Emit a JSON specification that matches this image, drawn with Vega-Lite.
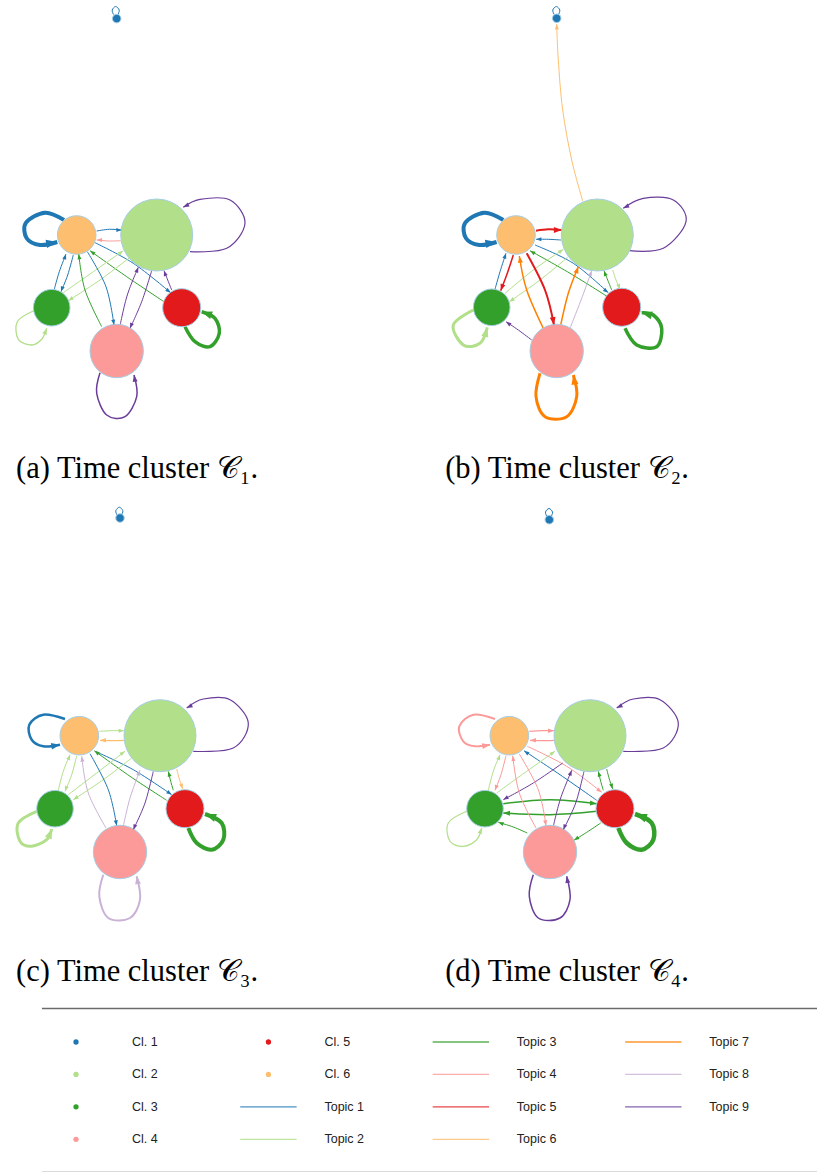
{
"$schema": "https://vega.github.io/schema/vega-lite/v6.json",
"padding": 0,
"spacing": 14,
"config": {"view": {"stroke": null}},
"vconcat": [
{
"data": {"values": [
{"p":"a","k":"Cl. 1","x":116.7,"y":18.6,"s":1.4},
{"p":"a","k":"Cl. 6","x":76.7,"y":235,"s":28.7},
{"p":"a","k":"Cl. 2","x":156.7,"y":235,"s":100},
{"p":"a","k":"Cl. 3","x":51.7,"y":307.7,"s":25.8},
{"p":"a","k":"Cl. 5","x":181.7,"y":307.7,"s":27.9},
{"p":"a","k":"Cl. 4","x":116.7,"y":351,"s":55},
{"p":"b","k":"Cl. 1","x":126.7,"y":18.3,"s":1.4},
{"p":"b","k":"Cl. 6","x":86,"y":235,"s":28.7},
{"p":"b","k":"Cl. 2","x":167.3,"y":235,"s":100},
{"p":"b","k":"Cl. 3","x":61.7,"y":307.3,"s":25.8},
{"p":"b","k":"Cl. 5","x":191.7,"y":307.3,"s":27.9},
{"p":"b","k":"Cl. 4","x":126.7,"y":351,"s":55},
{"p":"c","k":"Cl. 1","x":120,"y":15,"s":1.4},
{"p":"c","k":"Cl. 6","x":79.3,"y":232.7,"s":28.7},
{"p":"c","k":"Cl. 2","x":160,"y":232.7,"s":100},
{"p":"c","k":"Cl. 3","x":55,"y":305.7,"s":25.8},
{"p":"c","k":"Cl. 5","x":185,"y":305.7,"s":27.9},
{"p":"c","k":"Cl. 4","x":120,"y":349,"s":55},
{"p":"d","k":"Cl. 1","x":119.3,"y":16.7,"s":1.4},
{"p":"d","k":"Cl. 6","x":79.3,"y":232.7,"s":28.7},
{"p":"d","k":"Cl. 2","x":160,"y":232.7,"s":100},
{"p":"d","k":"Cl. 3","x":55,"y":305.7,"s":25.8},
{"p":"d","k":"Cl. 5","x":185,"y":305.7,"s":27.9},
{"p":"d","k":"Cl. 4","x":120,"y":349,"s":55},

{"p":"a","e":"a1","k":"Topic 1","w":4,"o":0,"x":64,"y":220},
{"p":"a","e":"a1","k":"Topic 1","w":4,"o":1,"x":45,"y":212.7},
{"p":"a","e":"a1","k":"Topic 1","w":4,"o":2,"x":26,"y":222.7},
{"p":"a","e":"a1","k":"Topic 1","w":4,"o":3,"x":26.7,"y":238.3},
{"p":"a","e":"a1","k":"Topic 1","w":4,"o":4,"x":40,"y":245},
{"p":"a","e":"a1","k":"Topic 1","w":4,"o":5,"x":57.3,"y":242,"h":80},
{"p":"a","e":"a2","k":"Topic 1","w":1,"o":0,"x":96.7,"y":231},
{"p":"a","e":"a2","k":"Topic 1","w":1,"o":1,"x":109.3,"y":229.3},
{"p":"a","e":"a2","k":"Topic 1","w":1,"o":2,"x":121.7,"y":230,"h":90},
{"p":"a","e":"a3","k":"Topic 4","w":1,"o":0,"x":120.7,"y":240.7},
{"p":"a","e":"a3","k":"Topic 4","w":1,"o":1,"x":108.7,"y":241},
{"p":"a","e":"a3","k":"Topic 4","w":1,"o":2,"x":96.7,"y":240,"h":270},
{"p":"a","e":"a4","k":"Topic 1","w":1,"o":0,"x":95,"y":242.7},
{"p":"a","e":"a4","k":"Topic 1","w":1,"o":1,"x":133.3,"y":263.3},
{"p":"a","e":"a4","k":"Topic 1","w":1,"o":2,"x":170.7,"y":292.7,"h":127},
{"p":"a","e":"a5","k":"Topic 3","w":1,"o":0,"x":164,"y":301.7},
{"p":"a","e":"a5","k":"Topic 3","w":1,"o":1,"x":126.7,"y":276.7},
{"p":"a","e":"a5","k":"Topic 3","w":1,"o":2,"x":90,"y":250.7,"h":305},
{"p":"a","e":"a6","k":"Topic 2","w":1,"o":0,"x":63.3,"y":292.7},
{"p":"a","e":"a6","k":"Topic 2","w":1,"o":1,"x":93.3,"y":271.7},
{"p":"a","e":"a6","k":"Topic 2","w":1,"o":2,"x":123.3,"y":250.7,"h":55},
{"p":"a","e":"a7","k":"Topic 2","w":1,"o":0,"x":130,"y":257.3},
{"p":"a","e":"a7","k":"Topic 2","w":1,"o":1,"x":100,"y":280},
{"p":"a","e":"a7","k":"Topic 2","w":1,"o":2,"x":68.3,"y":300.7,"h":237},
{"p":"a","e":"a8","k":"Topic 1","w":1,"o":0,"x":54.3,"y":289.3},
{"p":"a","e":"a8","k":"Topic 1","w":1,"o":1,"x":59.3,"y":271.7},
{"p":"a","e":"a8","k":"Topic 1","w":1,"o":2,"x":66,"y":254,"h":19},
{"p":"a","e":"a9","k":"Topic 1","w":1,"o":0,"x":73.3,"y":255},
{"p":"a","e":"a9","k":"Topic 1","w":1,"o":1,"x":67.7,"y":275},
{"p":"a","e":"a9","k":"Topic 1","w":1,"o":2,"x":61,"y":291.7,"h":199},
{"p":"a","e":"a10","k":"Topic 3","w":1,"o":0,"x":101.7,"y":326.7},
{"p":"a","e":"a10","k":"Topic 3","w":1,"o":1,"x":85,"y":290},
{"p":"a","e":"a10","k":"Topic 3","w":1,"o":2,"x":78.7,"y":254,"h":351},
{"p":"a","e":"a11","k":"Topic 1","w":1,"o":0,"x":87.3,"y":251.7},
{"p":"a","e":"a11","k":"Topic 1","w":1,"o":1,"x":106,"y":286.7},
{"p":"a","e":"a11","k":"Topic 1","w":1,"o":2,"x":114,"y":325,"h":171},
{"p":"a","e":"a12","k":"Topic 9","w":1,"o":0,"x":120,"y":325.7},
{"p":"a","e":"a12","k":"Topic 9","w":1,"o":1,"x":127.3,"y":295},
{"p":"a","e":"a12","k":"Topic 9","w":1,"o":2,"x":138.3,"y":267.3,"h":22},
{"p":"a","e":"a13","k":"Topic 9","w":1,"o":0,"x":151.7,"y":270.7},
{"p":"a","e":"a13","k":"Topic 9","w":1,"o":1,"x":141.7,"y":301.7},
{"p":"a","e":"a13","k":"Topic 9","w":1,"o":2,"x":130,"y":328.3,"h":202},
{"p":"a","e":"a14","k":"Topic 9","w":1,"o":0,"x":171.7,"y":290},
{"p":"a","e":"a14","k":"Topic 9","w":1,"o":1,"x":167.7,"y":280},
{"p":"a","e":"a14","k":"Topic 9","w":1,"o":2,"x":164,"y":270.7,"h":341},
{"p":"a","e":"a15","k":"Topic 9","w":1.2,"o":0,"x":190,"y":251.7},
{"p":"a","e":"a15","k":"Topic 9","w":1.2,"o":1,"x":226.7,"y":248.3},
{"p":"a","e":"a15","k":"Topic 9","w":1.2,"o":2,"x":245,"y":223.3},
{"p":"a","e":"a15","k":"Topic 9","w":1.2,"o":3,"x":230,"y":200},
{"p":"a","e":"a15","k":"Topic 9","w":1.2,"o":4,"x":200,"y":199.3},
{"p":"a","e":"a15","k":"Topic 9","w":1.2,"o":5,"x":183.3,"y":207.3,"h":243},
{"p":"a","e":"a16","k":"Topic 2","w":1.3,"o":0,"x":33.3,"y":311},
{"p":"a","e":"a16","k":"Topic 2","w":1.3,"o":1,"x":17.3,"y":321.7},
{"p":"a","e":"a16","k":"Topic 2","w":1.3,"o":2,"x":18.3,"y":339.3},
{"p":"a","e":"a16","k":"Topic 2","w":1.3,"o":3,"x":31.7,"y":345},
{"p":"a","e":"a16","k":"Topic 2","w":1.3,"o":4,"x":41.7,"y":339.3},
{"p":"a","e":"a16","k":"Topic 2","w":1.3,"o":5,"x":46.7,"y":328.3,"h":20},
{"p":"a","e":"a17","k":"Topic 3","w":3.5,"o":0,"x":185,"y":326.7},
{"p":"a","e":"a17","k":"Topic 3","w":3.5,"o":1,"x":195,"y":341.7},
{"p":"a","e":"a17","k":"Topic 3","w":3.5,"o":2,"x":210,"y":346.7},
{"p":"a","e":"a17","k":"Topic 3","w":3.5,"o":3,"x":219.3,"y":333.3},
{"p":"a","e":"a17","k":"Topic 3","w":3.5,"o":4,"x":215,"y":318.3},
{"p":"a","e":"a17","k":"Topic 3","w":3.5,"o":5,"x":201.7,"y":311.7,"h":290},
{"p":"a","e":"a18","k":"Topic 9","w":1.5,"o":0,"x":100,"y":372.7},
{"p":"a","e":"a18","k":"Topic 9","w":1.5,"o":1,"x":96.7,"y":393.3},
{"p":"a","e":"a18","k":"Topic 9","w":1.5,"o":2,"x":106.7,"y":415},
{"p":"a","e":"a18","k":"Topic 9","w":1.5,"o":3,"x":125,"y":416.7},
{"p":"a","e":"a18","k":"Topic 9","w":1.5,"o":4,"x":136.7,"y":396.7},
{"p":"a","e":"a18","k":"Topic 9","w":1.5,"o":5,"x":134,"y":375,"h":350},
{"p":"a","e":"a19","k":"Topic 1","w":1,"o":0,"x":113.5,"y":14.5},
{"p":"a","e":"a19","k":"Topic 1","w":1,"o":1,"x":112.2,"y":10},
{"p":"a","e":"a19","k":"Topic 1","w":1,"o":2,"x":115.7,"y":6.5},
{"p":"a","e":"a19","k":"Topic 1","w":1,"o":3,"x":119.2,"y":10},
{"p":"a","e":"a19","k":"Topic 1","w":1,"o":4,"x":118,"y":14.5},

{"p":"b","e":"b1","k":"Topic 6","w":1,"o":0,"x":152.7,"y":201},
{"p":"b","e":"b1","k":"Topic 6","w":1,"o":1,"x":141.7,"y":160},
{"p":"b","e":"b1","k":"Topic 6","w":1,"o":2,"x":132.7,"y":110},
{"p":"b","e":"b1","k":"Topic 6","w":1,"o":3,"x":128.3,"y":60},
{"p":"b","e":"b1","k":"Topic 6","w":1,"o":4,"x":126.7,"y":24,"h":358},
{"p":"b","e":"b2","k":"Topic 1","w":4,"o":0,"x":73.3,"y":220},
{"p":"b","e":"b2","k":"Topic 1","w":4,"o":1,"x":54.3,"y":212.7},
{"p":"b","e":"b2","k":"Topic 1","w":4,"o":2,"x":35.3,"y":222.7},
{"p":"b","e":"b2","k":"Topic 1","w":4,"o":3,"x":36,"y":238.3},
{"p":"b","e":"b2","k":"Topic 1","w":4,"o":4,"x":49.3,"y":245},
{"p":"b","e":"b2","k":"Topic 1","w":4,"o":5,"x":66.6,"y":242,"h":80},
{"p":"b","e":"b3","k":"Topic 5","w":2,"o":0,"x":106,"y":230.7},
{"p":"b","e":"b3","k":"Topic 5","w":2,"o":1,"x":118.3,"y":229.3},
{"p":"b","e":"b3","k":"Topic 5","w":2,"o":2,"x":131.7,"y":230,"h":90},
{"p":"b","e":"b4","k":"Topic 1","w":1,"o":0,"x":131,"y":240},
{"p":"b","e":"b4","k":"Topic 1","w":1,"o":1,"x":118.3,"y":239.3},
{"p":"b","e":"b4","k":"Topic 1","w":1,"o":2,"x":106,"y":239.3,"h":270},
{"p":"b","e":"b5","k":"Topic 1","w":1,"o":0,"x":105,"y":245},
{"p":"b","e":"b5","k":"Topic 1","w":1,"o":1,"x":143.3,"y":263.3},
{"p":"b","e":"b5","k":"Topic 1","w":1,"o":2,"x":178.3,"y":292.7,"h":127},
{"p":"b","e":"b6","k":"Topic 3","w":1,"o":0,"x":181.7,"y":299.3},
{"p":"b","e":"b6","k":"Topic 3","w":1,"o":1,"x":140,"y":273.3},
{"p":"b","e":"b6","k":"Topic 3","w":1,"o":2,"x":100,"y":250.7,"h":300},
{"p":"b","e":"b7","k":"Topic 2","w":1,"o":0,"x":75,"y":293.3},
{"p":"b","e":"b7","k":"Topic 2","w":1,"o":1,"x":103.3,"y":270},
{"p":"b","e":"b7","k":"Topic 2","w":1,"o":2,"x":133.3,"y":249.3,"h":55},
{"p":"b","e":"b8","k":"Topic 2","w":1,"o":0,"x":138.3,"y":256.7},
{"p":"b","e":"b8","k":"Topic 2","w":1,"o":1,"x":110,"y":280},
{"p":"b","e":"b8","k":"Topic 2","w":1,"o":2,"x":79.3,"y":301.7,"h":237},
{"p":"b","e":"b9","k":"Topic 1","w":1,"o":0,"x":65,"y":289.3},
{"p":"b","e":"b9","k":"Topic 1","w":1,"o":1,"x":70,"y":271.7},
{"p":"b","e":"b9","k":"Topic 1","w":1,"o":2,"x":76,"y":253.3,"h":18},
{"p":"b","e":"b10","k":"Topic 5","w":1.5,"o":0,"x":83.3,"y":255},
{"p":"b","e":"b10","k":"Topic 5","w":1.5,"o":1,"x":77.3,"y":273.3},
{"p":"b","e":"b10","k":"Topic 5","w":1.5,"o":2,"x":70.7,"y":290.7,"h":200},
{"p":"b","e":"b11","k":"Topic 7","w":1.5,"o":0,"x":113.3,"y":328.3},
{"p":"b","e":"b11","k":"Topic 7","w":1.5,"o":1,"x":96.7,"y":290},
{"p":"b","e":"b11","k":"Topic 7","w":1.5,"o":2,"x":89.3,"y":256,"h":350},
{"p":"b","e":"b12","k":"Topic 5","w":2,"o":0,"x":96.7,"y":253.3},
{"p":"b","e":"b12","k":"Topic 5","w":2,"o":1,"x":115,"y":290},
{"p":"b","e":"b12","k":"Topic 5","w":2,"o":2,"x":124,"y":325,"h":170},
{"p":"b","e":"b13","k":"Topic 7","w":1.5,"o":0,"x":130.7,"y":325},
{"p":"b","e":"b13","k":"Topic 7","w":1.5,"o":1,"x":138.3,"y":293.3},
{"p":"b","e":"b13","k":"Topic 7","w":1.5,"o":2,"x":148.3,"y":266.7,"h":20},
{"p":"b","e":"b14","k":"Topic 8","w":1,"o":0,"x":140,"y":328.3},
{"p":"b","e":"b14","k":"Topic 8","w":1,"o":1,"x":151.7,"y":298.3},
{"p":"b","e":"b14","k":"Topic 8","w":1,"o":2,"x":161.7,"y":270.7,"h":20},
{"p":"b","e":"b15","k":"Topic 3","w":1,"o":0,"x":181.7,"y":290},
{"p":"b","e":"b15","k":"Topic 3","w":1,"o":1,"x":177.7,"y":280},
{"p":"b","e":"b15","k":"Topic 3","w":1,"o":2,"x":174,"y":270.7,"h":340},
{"p":"b","e":"b16","k":"Topic 2","w":1,"o":0,"x":182.7,"y":270},
{"p":"b","e":"b16","k":"Topic 2","w":1,"o":1,"x":186,"y":280},
{"p":"b","e":"b16","k":"Topic 2","w":1,"o":2,"x":190,"y":289.3,"h":160},
{"p":"b","e":"b17","k":"Topic 9","w":1,"o":0,"x":101.7,"y":340},
{"p":"b","e":"b17","k":"Topic 9","w":1,"o":1,"x":88.3,"y":330},
{"p":"b","e":"b17","k":"Topic 9","w":1,"o":2,"x":76,"y":321.7,"h":305},
{"p":"b","e":"b18","k":"Topic 9","w":1.2,"o":0,"x":199.3,"y":250.7},
{"p":"b","e":"b18","k":"Topic 9","w":1.2,"o":1,"x":233.3,"y":248.3},
{"p":"b","e":"b18","k":"Topic 9","w":1.2,"o":2,"x":256,"y":221.7},
{"p":"b","e":"b18","k":"Topic 9","w":1.2,"o":3,"x":243.3,"y":200},
{"p":"b","e":"b18","k":"Topic 9","w":1.2,"o":4,"x":213.3,"y":198.3},
{"p":"b","e":"b18","k":"Topic 9","w":1.2,"o":5,"x":193.3,"y":208.3,"h":243},
{"p":"b","e":"b19","k":"Topic 2","w":3,"o":0,"x":43.3,"y":310},
{"p":"b","e":"b19","k":"Topic 2","w":3,"o":1,"x":23.3,"y":325},
{"p":"b","e":"b19","k":"Topic 2","w":3,"o":2,"x":33.3,"y":345},
{"p":"b","e":"b19","k":"Topic 2","w":3,"o":3,"x":50,"y":343.3},
{"p":"b","e":"b19","k":"Topic 2","w":3,"o":4,"x":57.3,"y":327.3,"h":15},
{"p":"b","e":"b20","k":"Topic 3","w":3.5,"o":0,"x":195,"y":328.3},
{"p":"b","e":"b20","k":"Topic 3","w":3.5,"o":1,"x":206.7,"y":345},
{"p":"b","e":"b20","k":"Topic 3","w":3.5,"o":2,"x":226.7,"y":346.7},
{"p":"b","e":"b20","k":"Topic 3","w":3.5,"o":3,"x":231.7,"y":328.3},
{"p":"b","e":"b20","k":"Topic 3","w":3.5,"o":4,"x":223.3,"y":315},
{"p":"b","e":"b20","k":"Topic 3","w":3.5,"o":5,"x":211.7,"y":312.7,"h":285},
{"p":"b","e":"b21","k":"Topic 7","w":3,"o":0,"x":110,"y":373.3},
{"p":"b","e":"b21","k":"Topic 7","w":3,"o":1,"x":106,"y":396.7},
{"p":"b","e":"b21","k":"Topic 7","w":3,"o":2,"x":115,"y":416.7},
{"p":"b","e":"b21","k":"Topic 7","w":3,"o":3,"x":136.7,"y":416.7},
{"p":"b","e":"b21","k":"Topic 7","w":3,"o":4,"x":146.7,"y":396.7},
{"p":"b","e":"b21","k":"Topic 7","w":3,"o":5,"x":143.3,"y":375,"h":350},
{"p":"b","e":"b22","k":"Topic 1","w":1,"o":0,"x":124.1,"y":14.5},
{"p":"b","e":"b22","k":"Topic 1","w":1,"o":1,"x":122.8,"y":10},
{"p":"b","e":"b22","k":"Topic 1","w":1,"o":2,"x":126.3,"y":6.5},
{"p":"b","e":"b22","k":"Topic 1","w":1,"o":3,"x":129.8,"y":10},
{"p":"b","e":"b22","k":"Topic 1","w":1,"o":4,"x":128.6,"y":14.5},

{"p":"c","e":"c1","k":"Topic 1","w":2.5,"o":0,"x":65,"y":216},
{"p":"c","e":"c1","k":"Topic 1","w":2.5,"o":1,"x":43.3,"y":211.7},
{"p":"c","e":"c1","k":"Topic 1","w":2.5,"o":2,"x":29.3,"y":221.7},
{"p":"c","e":"c1","k":"Topic 1","w":2.5,"o":3,"x":31.7,"y":236.7},
{"p":"c","e":"c1","k":"Topic 1","w":2.5,"o":4,"x":43.3,"y":243.3},
{"p":"c","e":"c1","k":"Topic 1","w":2.5,"o":5,"x":60,"y":241.7,"h":80},
{"p":"c","e":"c2","k":"Topic 2","w":1,"o":0,"x":99.3,"y":228.3},
{"p":"c","e":"c2","k":"Topic 2","w":1,"o":1,"x":111.7,"y":227.7},
{"p":"c","e":"c2","k":"Topic 2","w":1,"o":2,"x":124,"y":227.7,"h":90},
{"p":"c","e":"c3","k":"Topic 6","w":1.2,"o":0,"x":124,"y":237.3},
{"p":"c","e":"c3","k":"Topic 6","w":1.2,"o":1,"x":111.7,"y":237.7},
{"p":"c","e":"c3","k":"Topic 6","w":1.2,"o":2,"x":100,"y":237.3,"h":270},
{"p":"c","e":"c4","k":"Topic 1","w":1,"o":0,"x":95,"y":248.3},
{"p":"c","e":"c4","k":"Topic 1","w":1,"o":1,"x":133.3,"y":266.7},
{"p":"c","e":"c4","k":"Topic 1","w":1,"o":2,"x":171.7,"y":291.7,"h":125},
{"p":"c","e":"c5","k":"Topic 3","w":1,"o":0,"x":166.7,"y":297.3},
{"p":"c","e":"c5","k":"Topic 3","w":1,"o":1,"x":130,"y":273.3},
{"p":"c","e":"c5","k":"Topic 3","w":1,"o":2,"x":94.3,"y":247.7,"h":305},
{"p":"c","e":"c6","k":"Topic 2","w":1,"o":0,"x":58.3,"y":287.3},
{"p":"c","e":"c6","k":"Topic 2","w":1,"o":1,"x":63.3,"y":268.3},
{"p":"c","e":"c6","k":"Topic 2","w":1,"o":2,"x":70,"y":251.7,"h":20},
{"p":"c","e":"c7","k":"Topic 2","w":1,"o":0,"x":76.7,"y":252.7},
{"p":"c","e":"c7","k":"Topic 2","w":1,"o":1,"x":71.7,"y":271.7},
{"p":"c","e":"c7","k":"Topic 2","w":1,"o":2,"x":65,"y":288.3,"h":200},
{"p":"c","e":"c8","k":"Topic 2","w":1,"o":0,"x":68.3,"y":291.7},
{"p":"c","e":"c8","k":"Topic 2","w":1,"o":1,"x":96.7,"y":270},
{"p":"c","e":"c8","k":"Topic 2","w":1,"o":2,"x":125,"y":248.3,"h":55},
{"p":"c","e":"c9","k":"Topic 2","w":1,"o":0,"x":131.7,"y":255},
{"p":"c","e":"c9","k":"Topic 2","w":1,"o":1,"x":103.3,"y":276.7},
{"p":"c","e":"c9","k":"Topic 2","w":1,"o":2,"x":73.3,"y":296.7,"h":237},
{"p":"c","e":"c10","k":"Topic 8","w":1,"o":0,"x":106,"y":325},
{"p":"c","e":"c10","k":"Topic 8","w":1,"o":1,"x":88.3,"y":290},
{"p":"c","e":"c10","k":"Topic 8","w":1,"o":2,"x":81.7,"y":253.3,"h":352},
{"p":"c","e":"c11","k":"Topic 1","w":1,"o":0,"x":90,"y":250.7},
{"p":"c","e":"c11","k":"Topic 1","w":1,"o":1,"x":108.3,"y":286.7},
{"p":"c","e":"c11","k":"Topic 1","w":1,"o":2,"x":116.7,"y":322.7,"h":170},
{"p":"c","e":"c12","k":"Topic 8","w":1,"o":0,"x":123.3,"y":323.3},
{"p":"c","e":"c12","k":"Topic 8","w":1,"o":1,"x":130,"y":295},
{"p":"c","e":"c12","k":"Topic 8","w":1,"o":2,"x":140,"y":267.3,"h":22},
{"p":"c","e":"c13","k":"Topic 9","w":1,"o":0,"x":153.3,"y":268.3},
{"p":"c","e":"c13","k":"Topic 9","w":1,"o":1,"x":145,"y":300},
{"p":"c","e":"c13","k":"Topic 9","w":1,"o":2,"x":133.3,"y":326.7,"h":203},
{"p":"c","e":"c14","k":"Topic 3","w":1,"o":0,"x":173.3,"y":287.3},
{"p":"c","e":"c14","k":"Topic 3","w":1,"o":1,"x":170.7,"y":278.3},
{"p":"c","e":"c14","k":"Topic 3","w":1,"o":2,"x":168.3,"y":268.3,"h":345},
{"p":"c","e":"c15","k":"Topic 6","w":1,"o":0,"x":176.7,"y":266},
{"p":"c","e":"c15","k":"Topic 6","w":1,"o":1,"x":179.3,"y":276},
{"p":"c","e":"c15","k":"Topic 6","w":1,"o":2,"x":182.7,"y":286,"h":162},
{"p":"c","e":"c16","k":"Topic 9","w":1.2,"o":0,"x":193.3,"y":248.3},
{"p":"c","e":"c16","k":"Topic 9","w":1.2,"o":1,"x":233.3,"y":245},
{"p":"c","e":"c16","k":"Topic 9","w":1.2,"o":2,"x":248.3,"y":220},
{"p":"c","e":"c16","k":"Topic 9","w":1.2,"o":3,"x":230,"y":196.7},
{"p":"c","e":"c16","k":"Topic 9","w":1.2,"o":4,"x":203.3,"y":196},
{"p":"c","e":"c16","k":"Topic 9","w":1.2,"o":5,"x":186.7,"y":205,"h":243},
{"p":"c","e":"c17","k":"Topic 2","w":3,"o":0,"x":36.7,"y":308.3},
{"p":"c","e":"c17","k":"Topic 2","w":3,"o":1,"x":18.3,"y":320},
{"p":"c","e":"c17","k":"Topic 2","w":3,"o":2,"x":20,"y":338.3},
{"p":"c","e":"c17","k":"Topic 2","w":3,"o":3,"x":31.7,"y":343.3},
{"p":"c","e":"c17","k":"Topic 2","w":3,"o":4,"x":46.7,"y":336.7},
{"p":"c","e":"c17","k":"Topic 2","w":3,"o":5,"x":51.7,"y":326,"h":20},
{"p":"c","e":"c18","k":"Topic 3","w":4,"o":0,"x":188.3,"y":325},
{"p":"c","e":"c18","k":"Topic 3","w":4,"o":1,"x":196.7,"y":340},
{"p":"c","e":"c18","k":"Topic 3","w":4,"o":2,"x":211.7,"y":346.7},
{"p":"c","e":"c18","k":"Topic 3","w":4,"o":3,"x":223.3,"y":336.7},
{"p":"c","e":"c18","k":"Topic 3","w":4,"o":4,"x":221.7,"y":320},
{"p":"c","e":"c18","k":"Topic 3","w":4,"o":5,"x":205,"y":311,"h":290},
{"p":"c","e":"c19","k":"Topic 8","w":2,"o":0,"x":103.3,"y":371.7},
{"p":"c","e":"c19","k":"Topic 8","w":2,"o":1,"x":99.3,"y":393.3},
{"p":"c","e":"c19","k":"Topic 8","w":2,"o":2,"x":108.3,"y":415},
{"p":"c","e":"c19","k":"Topic 8","w":2,"o":3,"x":130,"y":415},
{"p":"c","e":"c19","k":"Topic 8","w":2,"o":4,"x":140,"y":396.7},
{"p":"c","e":"c19","k":"Topic 8","w":2,"o":5,"x":136.7,"y":373.3,"h":350},
{"p":"c","e":"c20","k":"Topic 1","w":1,"o":0,"x":117.1,"y":12.2},
{"p":"c","e":"c20","k":"Topic 1","w":1,"o":1,"x":115.8,"y":7.7},
{"p":"c","e":"c20","k":"Topic 1","w":1,"o":2,"x":119.3,"y":4.2},
{"p":"c","e":"c20","k":"Topic 1","w":1,"o":3,"x":122.8,"y":7.7},
{"p":"c","e":"c20","k":"Topic 1","w":1,"o":4,"x":121.5,"y":12.2},

{"p":"d","e":"d1","k":"Topic 4","w":2,"o":0,"x":65,"y":216},
{"p":"d","e":"d1","k":"Topic 4","w":2,"o":1,"x":43.3,"y":211.7},
{"p":"d","e":"d1","k":"Topic 4","w":2,"o":2,"x":29.3,"y":223.3},
{"p":"d","e":"d1","k":"Topic 4","w":2,"o":3,"x":33.3,"y":238.3},
{"p":"d","e":"d1","k":"Topic 4","w":2,"o":4,"x":45,"y":243.3},
{"p":"d","e":"d1","k":"Topic 4","w":2,"o":5,"x":60,"y":241.7,"h":80},
{"p":"d","e":"d2","k":"Topic 4","w":1.2,"o":0,"x":99.3,"y":228.3},
{"p":"d","e":"d2","k":"Topic 4","w":1.2,"o":1,"x":111.7,"y":227.7},
{"p":"d","e":"d2","k":"Topic 4","w":1.2,"o":2,"x":124,"y":227.7,"h":90},
{"p":"d","e":"d3","k":"Topic 4","w":1.2,"o":0,"x":124,"y":237.3},
{"p":"d","e":"d3","k":"Topic 4","w":1.2,"o":1,"x":111.7,"y":237.7},
{"p":"d","e":"d3","k":"Topic 4","w":1.2,"o":2,"x":100,"y":237.3,"h":270},
{"p":"d","e":"d4","k":"Topic 1","w":1,"o":0,"x":166.7,"y":297.3},
{"p":"d","e":"d4","k":"Topic 1","w":1,"o":1,"x":130,"y":271.7},
{"p":"d","e":"d4","k":"Topic 1","w":1,"o":2,"x":94,"y":247.7,"h":305},
{"p":"d","e":"d5","k":"Topic 4","w":1,"o":0,"x":97.3,"y":243.3},
{"p":"d","e":"d5","k":"Topic 4","w":1,"o":1,"x":136.7,"y":263.3},
{"p":"d","e":"d5","k":"Topic 4","w":1,"o":2,"x":171.7,"y":289.3,"h":127},
{"p":"d","e":"d6","k":"Topic 2","w":1,"o":0,"x":58.3,"y":287.3},
{"p":"d","e":"d6","k":"Topic 2","w":1,"o":1,"x":63.3,"y":268.3},
{"p":"d","e":"d6","k":"Topic 2","w":1,"o":2,"x":70,"y":251.7,"h":20},
{"p":"d","e":"d7","k":"Topic 4","w":1,"o":0,"x":76,"y":252.7},
{"p":"d","e":"d7","k":"Topic 4","w":1,"o":1,"x":71,"y":271.7},
{"p":"d","e":"d7","k":"Topic 4","w":1,"o":2,"x":65,"y":287.3,"h":200},
{"p":"d","e":"d8","k":"Topic 2","w":1,"o":0,"x":66.7,"y":290},
{"p":"d","e":"d8","k":"Topic 2","w":1,"o":1,"x":96.7,"y":268.3},
{"p":"d","e":"d8","k":"Topic 2","w":1,"o":2,"x":125,"y":248.3,"h":55},
{"p":"d","e":"d9","k":"Topic 9","w":1,"o":0,"x":132.7,"y":260},
{"p":"d","e":"d9","k":"Topic 9","w":1,"o":1,"x":103.3,"y":280},
{"p":"d","e":"d9","k":"Topic 9","w":1,"o":2,"x":73.3,"y":296.7,"h":240},
{"p":"d","e":"d10","k":"Topic 3","w":1.5,"o":0,"x":73.3,"y":300.7},
{"p":"d","e":"d10","k":"Topic 3","w":1.5,"o":1,"x":120,"y":296.7},
{"p":"d","e":"d10","k":"Topic 3","w":1.5,"o":2,"x":166.7,"y":300.7,"h":95},
{"p":"d","e":"d11","k":"Topic 3","w":1.5,"o":0,"x":166.7,"y":308.3},
{"p":"d","e":"d11","k":"Topic 3","w":1.5,"o":1,"x":120,"y":311.7},
{"p":"d","e":"d11","k":"Topic 3","w":1.5,"o":2,"x":73.3,"y":310,"h":272},
{"p":"d","e":"d12","k":"Topic 3","w":1,"o":0,"x":97.3,"y":330},
{"p":"d","e":"d12","k":"Topic 3","w":1,"o":1,"x":83.3,"y":324},
{"p":"d","e":"d12","k":"Topic 3","w":1,"o":2,"x":68.3,"y":319.3,"h":290},
{"p":"d","e":"d13","k":"Topic 3","w":1,"o":0,"x":170.7,"y":320},
{"p":"d","e":"d13","k":"Topic 3","w":1,"o":1,"x":158.3,"y":328.3},
{"p":"d","e":"d13","k":"Topic 3","w":1,"o":2,"x":144,"y":337.3,"h":237},
{"p":"d","e":"d14","k":"Topic 4","w":1,"o":0,"x":106,"y":325},
{"p":"d","e":"d14","k":"Topic 4","w":1,"o":1,"x":89.3,"y":290},
{"p":"d","e":"d14","k":"Topic 4","w":1,"o":2,"x":82.7,"y":252.7,"h":352},
{"p":"d","e":"d15","k":"Topic 4","w":1,"o":0,"x":89.3,"y":251},
{"p":"d","e":"d15","k":"Topic 4","w":1,"o":1,"x":108.3,"y":286.7},
{"p":"d","e":"d15","k":"Topic 4","w":1,"o":2,"x":116,"y":322.7,"h":170},
{"p":"d","e":"d16","k":"Topic 9","w":1,"o":0,"x":123.3,"y":323.3},
{"p":"d","e":"d16","k":"Topic 9","w":1,"o":1,"x":130.7,"y":295},
{"p":"d","e":"d16","k":"Topic 9","w":1,"o":2,"x":141.7,"y":267.3,"h":22},
{"p":"d","e":"d17","k":"Topic 9","w":1,"o":0,"x":154,"y":268.3},
{"p":"d","e":"d17","k":"Topic 9","w":1,"o":1,"x":145.7,"y":300},
{"p":"d","e":"d17","k":"Topic 9","w":1,"o":2,"x":133.3,"y":326.7,"h":203},
{"p":"d","e":"d18","k":"Topic 3","w":1,"o":0,"x":173.3,"y":287.3},
{"p":"d","e":"d18","k":"Topic 3","w":1,"o":1,"x":170.7,"y":278.3},
{"p":"d","e":"d18","k":"Topic 3","w":1,"o":2,"x":168.3,"y":268.3,"h":345},
{"p":"d","e":"d19","k":"Topic 3","w":1,"o":0,"x":176.7,"y":266},
{"p":"d","e":"d19","k":"Topic 3","w":1,"o":1,"x":179.3,"y":276},
{"p":"d","e":"d19","k":"Topic 3","w":1,"o":2,"x":182.7,"y":286,"h":162},
{"p":"d","e":"d20","k":"Topic 9","w":1.2,"o":0,"x":193.3,"y":248.3},
{"p":"d","e":"d20","k":"Topic 9","w":1.2,"o":1,"x":233.3,"y":245},
{"p":"d","e":"d20","k":"Topic 9","w":1.2,"o":2,"x":248.3,"y":220},
{"p":"d","e":"d20","k":"Topic 9","w":1.2,"o":3,"x":230,"y":196.7},
{"p":"d","e":"d20","k":"Topic 9","w":1.2,"o":4,"x":203.3,"y":196},
{"p":"d","e":"d20","k":"Topic 9","w":1.2,"o":5,"x":186.7,"y":205,"h":243},
{"p":"d","e":"d21","k":"Topic 2","w":1.2,"o":0,"x":36.7,"y":308.3},
{"p":"d","e":"d21","k":"Topic 2","w":1.2,"o":1,"x":18.3,"y":320},
{"p":"d","e":"d21","k":"Topic 2","w":1.2,"o":2,"x":20,"y":338.3},
{"p":"d","e":"d21","k":"Topic 2","w":1.2,"o":3,"x":33.3,"y":343.3},
{"p":"d","e":"d21","k":"Topic 2","w":1.2,"o":4,"x":46.7,"y":336.7},
{"p":"d","e":"d21","k":"Topic 2","w":1.2,"o":5,"x":51.7,"y":325,"h":20},
{"p":"d","e":"d22","k":"Topic 3","w":4.5,"o":0,"x":188.3,"y":325},
{"p":"d","e":"d22","k":"Topic 3","w":4.5,"o":1,"x":196.7,"y":340},
{"p":"d","e":"d22","k":"Topic 3","w":4.5,"o":2,"x":211.7,"y":346.7},
{"p":"d","e":"d22","k":"Topic 3","w":4.5,"o":3,"x":223.3,"y":336.7},
{"p":"d","e":"d22","k":"Topic 3","w":4.5,"o":4,"x":221.7,"y":320},
{"p":"d","e":"d22","k":"Topic 3","w":4.5,"o":5,"x":205,"y":311,"h":290},
{"p":"d","e":"d23","k":"Topic 9","w":1.5,"o":0,"x":103.3,"y":371.7},
{"p":"d","e":"d23","k":"Topic 9","w":1.5,"o":1,"x":99.3,"y":393.3},
{"p":"d","e":"d23","k":"Topic 9","w":1.5,"o":2,"x":108.3,"y":415},
{"p":"d","e":"d23","k":"Topic 9","w":1.5,"o":3,"x":130,"y":415},
{"p":"d","e":"d23","k":"Topic 9","w":1.5,"o":4,"x":140,"y":396.7},
{"p":"d","e":"d23","k":"Topic 9","w":1.5,"o":5,"x":136.7,"y":373.3,"h":350},
{"p":"d","e":"d24","k":"Topic 1","w":1,"o":0,"x":116.8,"y":13.5},
{"p":"d","e":"d24","k":"Topic 1","w":1,"o":1,"x":115.5,"y":9},
{"p":"d","e":"d24","k":"Topic 1","w":1,"o":2,"x":119,"y":5.5},
{"p":"d","e":"d24","k":"Topic 1","w":1,"o":3,"x":122.5,"y":9},
{"p":"d","e":"d24","k":"Topic 1","w":1,"o":4,"x":121.2,"y":13.5}
]},
"facet": {
  "field": "p", "type": "nominal", "title": null,
  "header": {
    "labelOrient": "bottom", "labelAnchor": "middle",
    "labelFont": "Liberation Serif", "labelFontSize": 30.5, "labelColor": "#000",
    "labelPadding": 38, "labelBaseline": "alphabetic",
    "labelExpr": "'(' + datum.value + ') Time cluster 𝒞' + (datum.value == 'a' ? '₁' : datum.value == 'b' ? '₂' : datum.value == 'c' ? '₃' : '₄') + '.'"
  }
},
"columns": 2,
"spacing": {"row": 18, "column": 156},
"spec": {
  "width": 274,
  "height": 440,
  "resolve": {"scale": {"size": "independent"}},
  "layer": [
    {
      "transform": [{"filter": "isValid(datum.e)"}],
      "mark": {"type": "line", "interpolate": "cardinal", "strokeJoin": "round"},
      "encoding": {
        "x": {"field": "x", "type": "quantitative", "scale": {"domain": [0, 274], "nice": false}, "axis": null},
        "y": {"field": "y", "type": "quantitative", "scale": {"domain": [0, 440], "nice": false, "reverse": true}, "axis": null},
        "detail": {"field": "e"},
        "order": {"field": "o", "type": "quantitative"},
        "color": {"field": "k", "type": "nominal", "legend": null,
          "scale": {"domain": ["Cl. 1","Cl. 2","Cl. 3","Cl. 4","Cl. 5","Cl. 6","Topic 1","Topic 2","Topic 3","Topic 4","Topic 5","Topic 6","Topic 7","Topic 8","Topic 9"],
                    "range": ["#1f78b4","#b2df8a","#33a02c","#fb9a99","#e31a1c","#fdbf6f","#1f78b4","#b2df8a","#33a02c","#fb9a99","#e31a1c","#fdbf6f","#ff7f00","#cab2d6","#6a3d9a"]}},
        "strokeWidth": {"field": "w", "type": "quantitative", "legend": null, "scale": {"domain": [0, 5], "range": [0, 5]}}
      }
    },
    {
      "transform": [{"filter": "isValid(datum.s)"}],
      "mark": {"type": "point", "shape": "circle", "filled": true, "opacity": 1, "stroke": "#a6cee3", "strokeWidth": 1},
      "encoding": {
        "x": {"field": "x", "type": "quantitative", "axis": null},
        "y": {"field": "y", "type": "quantitative", "axis": null},
        "color": {"field": "k", "type": "nominal", "legend": null},
        "size": {"field": "s", "type": "quantitative", "legend": null, "scale": {"domain": [0, 100], "range": [0, 5184]}}
      }
    },
    {
      "transform": [{"filter": "isValid(datum.h)"}],
      "mark": {"type": "point", "shape": "M0,0L0.6,1.6L-0.6,1.6Z", "filled": true, "opacity": 1},
      "encoding": {
        "x": {"field": "x", "type": "quantitative", "axis": null},
        "y": {"field": "y", "type": "quantitative", "axis": null},
        "color": {"field": "k", "type": "nominal", "legend": null},
        "angle": {"field": "h", "type": "quantitative", "scale": {"domain": [0, 360], "range": [0, 360]}},
        "size": {"field": "w", "type": "quantitative", "legend": null, "scale": {"domain": [1, 4.5], "range": [45, 220]}}
      }
    }
  ]
}
},
{
"width": 817,
"height": 172,
"data": {"values": [
{"k":"Cl. 1","g":"cl","col":0,"row":0},
{"k":"Cl. 2","g":"cl","col":0,"row":1},
{"k":"Cl. 3","g":"cl","col":0,"row":2},
{"k":"Cl. 4","g":"cl","col":0,"row":3},
{"k":"Cl. 5","g":"cl","col":1,"row":0},
{"k":"Cl. 6","g":"cl","col":1,"row":1},
{"k":"Topic 1","g":"t","col":1,"row":2},
{"k":"Topic 2","g":"t","col":1,"row":3},
{"k":"Topic 3","g":"t","col":2,"row":0},
{"k":"Topic 4","g":"t","col":2,"row":1},
{"k":"Topic 5","g":"t","col":2,"row":2},
{"k":"Topic 6","g":"t","col":2,"row":3},
{"k":"Topic 7","g":"t","col":3,"row":0},
{"k":"Topic 8","g":"t","col":3,"row":1},
{"k":"Topic 9","g":"t","col":3,"row":2}
]},
"layer": [
  {
    "data": {"values": [{"edge": "top"}]},
    "mark": {"type": "rule", "stroke": "#6b6b6b", "strokeWidth": 1.5},
    "encoding": {
      "x": {"datum": -0.177, "type": "quantitative", "scale": {"domain": [0, 3], "range": [76, 653.3]}, "axis": null},
      "x2": {"datum": 3.851},
      "y": {"datum": -1.03, "type": "quantitative", "scale": {"domain": [0, 3], "range": [40, 137.3]}, "axis": null}
    }
  },
  {
    "data": {"values": [{"edge": "bottom"}]},
    "mark": {"type": "rule", "stroke": "#6b6b6b", "strokeWidth": 1.5},
    "encoding": {
      "x": {"datum": -0.177, "type": "quantitative", "axis": null},
      "x2": {"datum": 3.851},
      "y": {"datum": 4.02, "type": "quantitative", "axis": null}
    }
  },
  {
    "transform": [{"filter": "datum.g == 'cl'"}],
    "mark": {"type": "point", "shape": "circle", "filled": true, "size": 28, "opacity": 1},
    "encoding": {
      "x": {"field": "col", "type": "quantitative", "axis": null},
      "y": {"field": "row", "type": "quantitative", "axis": null},
      "color": {"field": "k", "type": "nominal", "legend": null,
        "scale": {"domain": ["Cl. 1","Cl. 2","Cl. 3","Cl. 4","Cl. 5","Cl. 6","Topic 1","Topic 2","Topic 3","Topic 4","Topic 5","Topic 6","Topic 7","Topic 8","Topic 9"],
                  "range": ["#1f78b4","#b2df8a","#33a02c","#fb9a99","#e31a1c","#fdbf6f","#1f78b4","#b2df8a","#33a02c","#fb9a99","#e31a1c","#fdbf6f","#ff7f00","#cab2d6","#6a3d9a"]}}
    }
  },
  {
    "transform": [{"filter": "datum.g == 't'"}],
    "mark": {"type": "point", "shape": "stroke", "size": 3180, "strokeWidth": 1.3, "opacity": 0.8},
    "encoding": {
      "x": {"field": "col", "type": "quantitative", "axis": null},
      "y": {"field": "row", "type": "quantitative", "axis": null},
      "color": {"field": "k", "type": "nominal", "legend": null}
    }
  },
  {
    "mark": {"type": "text", "align": "left", "baseline": "middle", "dx": 56, "font": "Liberation Sans", "fontSize": 12.5, "color": "#222"},
    "encoding": {
      "x": {"field": "col", "type": "quantitative", "axis": null},
      "y": {"field": "row", "type": "quantitative", "axis": null},
      "text": {"field": "k", "type": "nominal"}
    }
  }
]
}
]
}
